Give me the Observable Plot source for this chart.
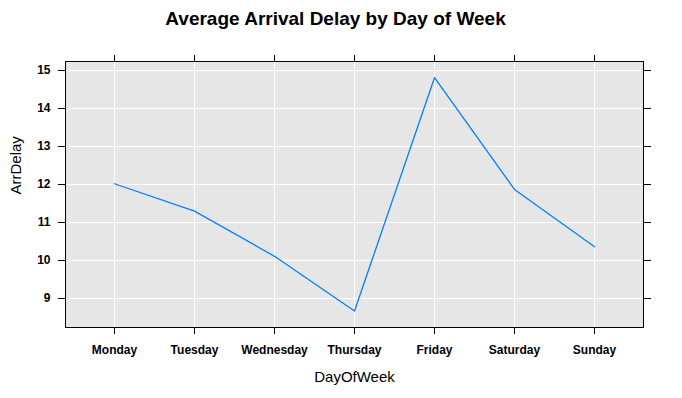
<!DOCTYPE html>
<html>
<head>
<meta charset="utf-8">
<script src="https://cdn.jsdelivr.net/npm/d3@7"></script>
<script src="https://cdn.jsdelivr.net/npm/@observablehq/plot@0.6"></script>
<style>
  html, body { margin: 0; padding: 0; background: white; }
</style>
</head>
<body>
<div id="chart"></div>
<script>
const days = ["Monday", "Tuesday", "Wednesday", "Thursday", "Friday", "Saturday", "Sunday"];
const arrDelay = [12.02, 11.30, 10.11, 8.67, 14.81, 11.87, 10.36];
const yTicks = [9, 10, 11, 12, 13, 14, 15];
const titleText = "Average Arrival Delay by Day of Week";
const xLabel = "DayOfWeek";
const yLabel = "ArrDelay";

const data = days.map((d, i) => ({day: d, delay: arrDelay[i]}));

const font = "'Liberation Sans', Arial, Helvetica, sans-serif";

const chart = Plot.plot({
  width: 682,
  height: 398,
  marginLeft: 65,
  marginRight: 39,
  marginTop: 61,
  marginBottom: 71,
  style: {background: "white", fontFamily: font, fontSize: "12px", color: "black"},
  x: {type: "point", domain: days, padding: 0.6, label: null},
  y: {domain: [8.237, 15.237], label: null},
  marks: [
    Plot.frame({fill: "#e6e6e6", stroke: null}),
    Plot.gridY(yTicks, {stroke: "white", strokeOpacity: 1, strokeWidth: 1}),
    Plot.gridX(days, {stroke: "white", strokeOpacity: 1, strokeWidth: 1}),
    Plot.line(data, {x: "day", y: "delay", stroke: "#0080ff", strokeWidth: 1.3}),
    Plot.frame({stroke: "black", strokeWidth: 1}),
    Plot.axisY(yTicks, {anchor: "left", tickSize: 7, tickPadding: 8, fontWeight: "bold", fontSize: 12, label: null}),
    Plot.axisY(yTicks, {anchor: "right", tickSize: 7, tickFormat: () => "", label: null}),
    Plot.axisX(days, {anchor: "bottom", tickSize: 7, tickPadding: 11, fontWeight: "bold", fontSize: 12, label: null}),
    Plot.axisX(days, {anchor: "top", tickSize: 7, tickFormat: () => "", label: null}),
    Plot.text([titleText], {frameAnchor: "top", dx: -19, dy: -50, text: d => d, fontSize: 19, fontWeight: "bold", fill: "black"}),
    Plot.text([xLabel], {frameAnchor: "bottom", dy: 54, text: d => d, fontSize: 15, fill: "black"}),
    Plot.text([yLabel], {frameAnchor: "left", dx: -49, rotate: -90, text: d => d, fontSize: 15, fill: "black"})
  ]
});

document.getElementById("chart").appendChild(chart);
</script>
</body>
</html>
